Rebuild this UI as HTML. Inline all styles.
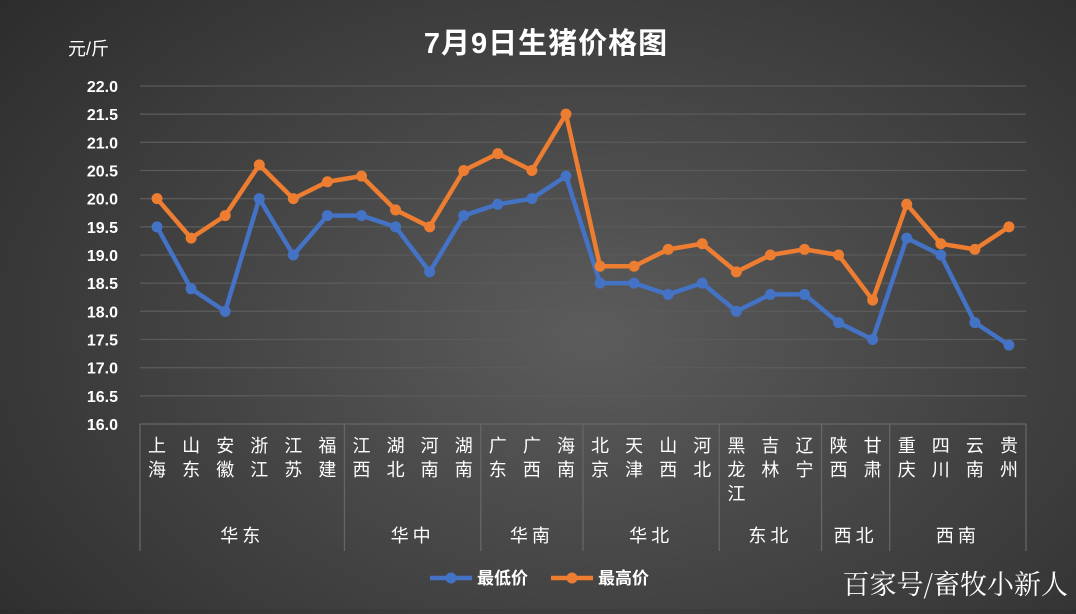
<!DOCTYPE html>
<html><head><meta charset="utf-8">
<style>
html,body{margin:0;padding:0;}
body{width:1076px;height:609px;overflow:hidden;background:radial-gradient(ellipse 75% 90% at 55% 55%,#5c5c5c 0%,#454545 45%,#2a2a2a 100%);font-family:"Liberation Sans","Noto Sans CJK SC",sans-serif;}
svg text{font-family:"Liberation Sans","Noto Sans CJK SC",sans-serif;fill:#fff;}
</style></head><body>
<svg id="c" width="1076" height="609" xmlns="http://www.w3.org/2000/svg"></svg>
<script>
const s=document.getElementById('c');let h='';
const X0=140,X1=1026,Y0=424,Y22=86,n=26,w=(X1-X0)/n;
const y=v=>Y0-(v-16)/6*(Y0-Y22);
const cx=i=>X0+w*(i+0.5);
for(let k=0;k<=12;k++){const v=16+k*0.5,yy=y(v);
 if(k>0)h+=`<line x1="${X0}" x2="${X1}" y1="${yy}" y2="${yy}" stroke="#5a5a5a" stroke-width="1.3"/>`;
 h+=`<text x="118" y="${yy+6}" text-anchor="end" font-size="16" font-weight="bold">${v.toFixed(1)}</text>`;}
h+=`<line x1="${X0}" x2="${X1}" y1="${Y0}" y2="${Y0}" stroke="#666" stroke-width="1.3"/>`;
[0,6,10,13,17,20,22,26].forEach(k=>{const xx=X0+w*k;h+=`<line x1="${xx}" x2="${xx}" y1="${Y0}" y2="551" stroke="#666" stroke-width="1.3"/>`;});
const cities=["上海","山东","安徽","浙江","江苏","福建","江西","湖北","河南","湖南","广东","广西","海南","北京","天津","山西","河北","黑龙江","吉林","辽宁","陕西","甘肃","重庆","四川","云南","贵州"];
cities.forEach((c,i)=>{[...c].forEach((ch,j)=>{h+=`<text x="${cx(i)}" y="${452+j*24}" text-anchor="middle" font-size="18">${ch}</text>`;});});
const groups=[["华东",0,6],["华中",6,10],["华南",10,13],["华北",13,17],["东北",17,20],["西北",20,22],["西南",22,26]];
groups.forEach(g=>{h+=`<text x="${X0+w*(g[1]+g[2])/2}" y="542" text-anchor="middle" font-size="18" letter-spacing="4">${g[0]}</text>`;});
const lo=[19.5,18.4,18.0,20.0,19.0,19.7,19.7,19.5,18.7,19.7,19.9,20.0,20.4,18.5,18.5,18.3,18.5,18.0,18.3,18.3,17.8,17.5,19.3,19.0,17.8,17.4];
const hi=[20.0,19.3,19.7,20.6,20.0,20.3,20.4,19.8,19.5,20.5,20.8,20.5,21.5,18.8,18.8,19.1,19.2,18.7,19.0,19.1,19.0,18.2,19.9,19.2,19.1,19.5];
function ser(d,col){h+=`<polyline fill="none" stroke="${col}" stroke-width="4.5" stroke-linejoin="round" points="${d.map((v,i)=>cx(i)+','+y(v)).join(' ')}"/>`;
 d.forEach((v,i)=>h+=`<circle cx="${cx(i)}" cy="${y(v)}" r="5.5" fill="${col}"/>`);}
ser(lo,"#4472C4");ser(hi,"#ED7D31");
h+=`<text x="546" y="53" text-anchor="middle" font-size="29" font-weight="bold" letter-spacing="1">7月9日生猪价格图</text>`;
h+=`<text x="68" y="55" font-size="18">元/斤</text>`;
h+=`<line x1="430" x2="472" y1="578" y2="578" stroke="#4472C4" stroke-width="4.5"/><circle cx="451" cy="578" r="5.5" fill="#4472C4"/><text x="477" y="584" font-size="17" font-weight="bold">最低价</text>`;
h+=`<line x1="551" x2="593" y1="578" y2="578" stroke="#ED7D31" stroke-width="4.5"/><circle cx="572" cy="578" r="5.5" fill="#ED7D31"/><text x="598" y="584" font-size="17" font-weight="bold">最高价</text>`;
h+=`<text x="1068" y="594" text-anchor="end" font-size="27" style="font-family:'Noto Serif CJK SC',serif">百家号/畜牧小新人</text>`;
s.innerHTML=h;
</script>
</body></html>
